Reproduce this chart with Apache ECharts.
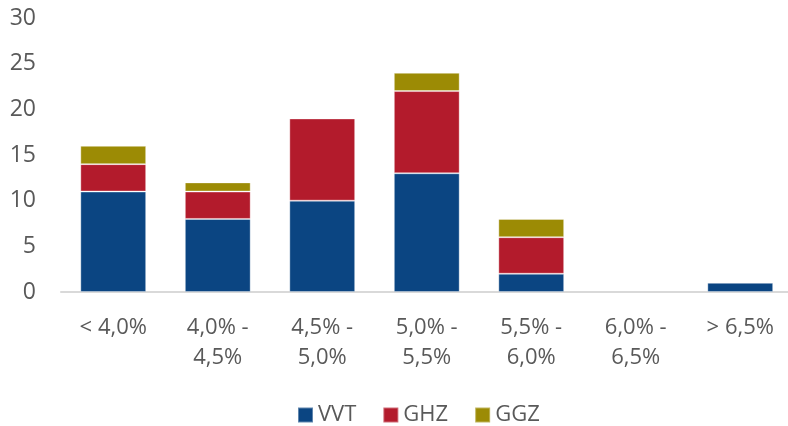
<!DOCTYPE html>
<html lang="nl" style="height: 100%;margin: 0;">
<head>
    <meta charset="UTF-8">
    <title>chart</title>
</head>
<body style="height: 100%;margin: 0;">
<div id="chart" style="width: 788px;height: 426px;margin: 0;"></div>
<script src="https://cdn.jsdelivr.net/npm/echarts@6/dist/echarts.min.js"></script>
<script>
    var categories = ['< 4,0%', '4,0% -\n4,5%', '4,5% -\n5,0%', '5,0% -\n5,5%', '5,5% -\n6,0%', '6,0% -\n6,5%', '> 6,5%'];
    var legend = ['VVT', 'GHZ', 'GGZ'];
    var vvt = [11, 8, 10, 13, 2, 0, 1];
    var ghz = [3, 3, 9, 9, 4, 0, 0];
    var ggz = [2, 1, 0, 2, 2, 0, 0];
    var colors = ['#0b4582', '#b31b2c', '#9c8b05'];

    var myChart = echarts.init(document.getElementById('chart'), null, {renderer: 'canvas'});
    var font = '"Open Sans", sans-serif';
    var dataList = [vvt, ghz, ggz];
    var series = [];
    for (var i = 0; i < dataList.length; i++) {
        series.push({
            name: legend[i],
            type: 'bar',
            stack: 'total',
            barWidth: '63%',
            // empty segments get no mark, so no stray border line at zero
            data: dataList[i].map(function (v) { return v === 0 ? '-' : v; }),
            itemStyle: {
                color: colors[i],
                borderColor: 'rgba(255,255,255,0.35)',
                borderWidth: 1
            }
        });
    }
    var option = {
        animation: false,
        color: colors,
        grid: {left: 61, width: 731.5, top: 18, bottom: 134, outerBoundsMode: 'none'},
        legend: {
            data: legend,
            bottom: -5,
            left: 292,
            itemWidth: 15,
            itemHeight: 15,
            itemGap: 26,
            icon: 'rect',
            textStyle: {fontFamily: font, fontSize: 22, color: '#595959'}
        },
        xAxis: [{
            type: 'category',
            data: categories,
            axisTick: {show: false},
            axisLine: {lineStyle: {color: '#d9d9d9', width: 2}},
            axisLabel: {
                fontFamily: font,
                fontSize: 22,
                color: '#595959',
                lineHeight: 30,
                margin: 21,
                interval: 0
            }
        }],
        yAxis: [{
            type: 'value',
            min: 0,
            max: 30,
            interval: 5,
            splitLine: {show: false},
            axisLabel: {
                fontFamily: font,
                fontSize: 23,
                color: '#595959',
                margin: 25
            }
        }],
        series: series
    };
    myChart.setOption(option, true);
</script>
</body>
</html>
